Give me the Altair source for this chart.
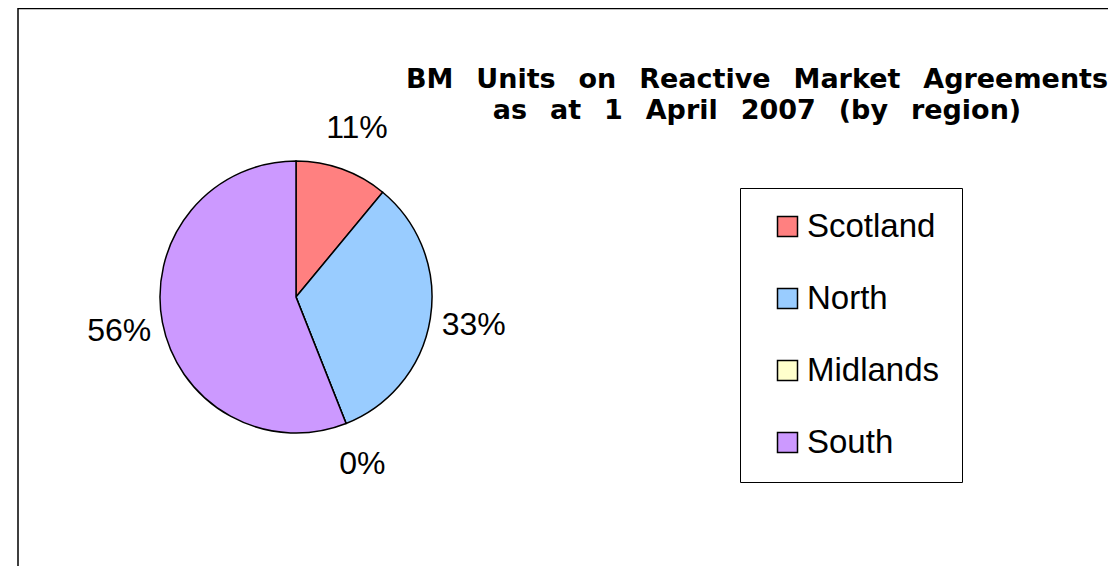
import altair as alt
import pandas as pd

regions = ["Scotland", "North", "Midlands", "South"]
shares = [11, 33, 0, 56]
labels = ["11%", "33%", "0%", "56%"]
colors = ["#FF8080", "#99CCFF", "#FFFFCC", "#CC99FF"]
GAP = "\u2002\u00a0"
title_lines = [GAP.join(["BM", "Units", "on", "Reactive", "Market", "Agreements"]),
               GAP.join(["as", "at", "1", "April", "2007", "(by", "region)"])]

df = pd.DataFrame({"region": regions, "share": shares, "label": labels,
                   "idx": list(range(len(regions)))})

W, H = 1100, 558
CX, CY, R = 288, 289, 136
FONT = "Liberation Sans"

frame = alt.Chart(pd.DataFrame({"a": [0]})).mark_rect(
    fillOpacity=0, stroke="black", strokeWidth=1.5
).encode(x=alt.value(10), x2=alt.value(1200), y=alt.value(0.5), y2=alt.value(800))

color = alt.Color("region:N", scale=alt.Scale(domain=regions, range=colors),
                  sort=regions,
                  legend=alt.Legend(title=None, orient="none", legendX=732, legendY=180,
                                    symbolType="square", symbolSize=400,
                                    symbolStrokeColor="black", symbolStrokeWidth=1.5,
                                    symbolOffset=9, padding=22, labelOffset=3,
                                    labelFont=FONT, labelFontSize=33, labelColor="black",
                                    rowPadding=38, strokeColor="black",
                                    fillColor="white"))

pie = alt.Chart(df).mark_arc(x=CX, y=CY, outerRadius=R, stroke="black",
                             strokeWidth=1.5).encode(
    theta=alt.Theta("share:Q", stack=True),
    color=color,
    order=alt.Order("idx:Q"),
)

text = alt.Chart(df).mark_text(x=CX, y=CY, radius=180, font=FONT, fontSize=32,
                               color="black", align="center", baseline="middle").encode(
    theta=alt.Theta("share:Q", stack=True),
    order=alt.Order("idx:Q"),
    text="label:N",
)

title = alt.Chart(pd.DataFrame({"t": ["\n".join(title_lines)]})).mark_text(
    font="DejaVu Sans", fontWeight="bold", fontSize=27, color="black",
    align="center", baseline="alphabetic", lineBreak="\n", lineHeight=31
).encode(x=alt.value(749), y=alt.value(80), text="t:N")

chart = alt.layer(frame, pie, text, title).properties(
    width=W, height=H, padding=0, autosize=alt.AutoSizeParams(type="none"),
    background="white"
).configure_view(stroke=None)

chart.save("out.html", embed_options={"renderer": "svg", "actions": False})
